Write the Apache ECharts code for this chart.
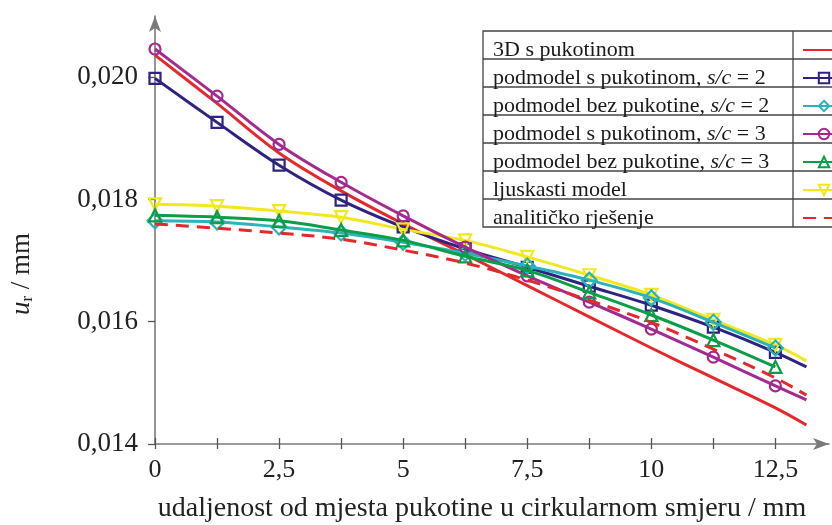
<!DOCTYPE html>
<html>
<head>
<meta charset="utf-8">
<script src="https://cdn.jsdelivr.net/npm/echarts@6/dist/echarts.min.js"></script>
<style>
html,body{margin:0;padding:0;background:#fff;}
#chart{width:832px;height:525px;}
</style>
</head>
<body>
<div id="chart"></div>
<script>
// ---- data (values in mm) ----
var xPositions = [0, 1.25, 2.5, 3.75, 5, 6.25, 7.5, 8.75, 10, 11.25, 12.5, 13.125];
var xTickValues = [0, 1.25, 2.5, 3.75, 5, 6.25, 7.5, 8.75, 10, 11.25, 12.5];
var xLabelValues = [0, 2.5, 5, 7.5, 10, 12.5];
var yLabelValues = [0.014, 0.016, 0.018, 0.020];

var names = [
  '3D s pukotinom',
  'podmodel s pukotinom, s/c = 2',
  'podmodel bez pukotine, s/c = 2',
  'podmodel s pukotinom, s/c = 3',
  'podmodel bez pukotine, s/c = 3',
  'ljuskasti model',
  'analitičko rješenje'
];

var full3D      = [0.02036, 0.01957, 0.01876, 0.01814, 0.01760, 0.01710, 0.01659, 0.01608, 0.01557, 0.01508, 0.01459, 0.01431];
var subCrack2   = [0.01998, 0.01926, 0.01856, 0.01799, 0.01755, 0.01719, 0.01689, 0.01658, 0.01627, 0.01591, 0.01550, 0.01526];
var subNoCrack2 = [0.01765, 0.01763, 0.01755, 0.01745, 0.01730, 0.01712, 0.01691, 0.01668, 0.01639, 0.01599, 0.01557];
var subCrack3   = [0.02046, 0.01969, 0.01890, 0.01828, 0.01773, 0.01722, 0.01675, 0.01632, 0.01588, 0.01542, 0.01495, 0.01472];
var subNoCrack3 = [0.01774, 0.01771, 0.01765, 0.01750, 0.01733, 0.01707, 0.01684, 0.01648, 0.01611, 0.01570, 0.01526];
var shellModel  = [0.01792, 0.01789, 0.01781, 0.01771, 0.01751, 0.01733, 0.01706, 0.01676, 0.01644, 0.01603, 0.01562, 0.01536];
var analytical  = [0.01760, 0.01753, 0.01745, 0.01735, 0.01717, 0.01696, 0.01668, 0.01635, 0.01599, 0.01555, 0.01508, 0.01480];

var colors = ['#e4282c', '#2e2383', '#2ab3b8', '#a32a8f', '#0c9d48', '#f2e81c', '#e4282c'];

var FONT = '"Liberation Serif", "Times New Roman", serif';

function pts(arr, hasMarker) {
  return arr.map(function (v, i) {
    var item = { value: [xPositions[i], v] };
    if (!hasMarker || i >= xTickValues.length) item.symbol = 'none';
    return item;
  });
}

function mkSeries(idx, arr, symbol, size, opts) {
  var c = colors[idx];
  var s = {
    name: names[idx],
    type: 'line',
    smooth: 0.35,
    data: pts(arr, !!symbol),
    symbol: symbol || 'circle',
    symbolSize: size || 0,
    showSymbol: !!symbol,
    lineStyle: { color: c, width: 3 },
    itemStyle: symbol ? { color: 'rgba(255,255,255,0)', borderColor: c, borderWidth: 2.2 }
                      : { color: 'rgba(255,255,255,0)', borderWidth: 0 },
    emphasis: { disabled: true },
    clip: false,
    z: 2 + idx
  };
  if (opts) for (var k in opts) s[k] = opts[k];
  return s;
}

var series = [
  mkSeries(0, full3D, null),
  mkSeries(1, subCrack2, 'rect', 11),
  mkSeries(2, subNoCrack2, 'diamond', 15),
  mkSeries(3, subCrack3, 'circle', 11),
  mkSeries(4, subNoCrack3, 'triangle', 12),
  mkSeries(5, shellModel, 'triangle', 12, { symbolRotate: 180 }),
  mkSeries(6, analytical, null)
];
series[6].lineStyle.type = [13, 8];
series[5].z = 3;

var chart = echarts.init(document.getElementById('chart'), null, { renderer: 'canvas' });

var rowH = 28, legTop = 31, legLeft = 483, legDiv = 793, legRight = 840;
var tableGraphics = [{
  type: 'rect',
  shape: { x: legLeft, y: legTop, width: legRight - legLeft, height: rowH * names.length },
  style: { fill: '#fff', stroke: '#444', lineWidth: 1.3 },
  z: 0
}, {
  type: 'line',
  shape: { x1: legDiv, y1: legTop, x2: legDiv, y2: legTop + rowH * names.length },
  style: { stroke: '#444', lineWidth: 1.3 },
  z: 0
}];
for (var r = 1; r < names.length; r++) {
  tableGraphics.push({
    type: 'line',
    shape: { x1: legLeft, y1: legTop + r * rowH, x2: legRight, y2: legTop + r * rowH },
    style: { stroke: '#444', lineWidth: 1.3 },
    z: 0
  });
}
tableGraphics.push({
  type: 'text',
  x: 22, y: 274,
  rotation: Math.PI / 2,
  style: {
    text: '{u|u}{r|r}{n| / mm}',
    align: 'center', verticalAlign: 'middle',
    rich: {
      u: { fontFamily: FONT, fontSize: 27, fontStyle: 'italic', fill: '#222' },
      r: { fontFamily: FONT, fontSize: 17, fill: '#222', padding: [12, 0, 0, 0] },
      n: { fontFamily: FONT, fontSize: 27, fill: '#222' }
    }
  },
  z: 10
});

var option = {
  backgroundColor: '#fff',
  animation: false,
  grid: { left: 155, right: 3, top: 16, bottom: 81, containLabel: false, outerBoundsMode: 'none' },
  legend: [{
    data: names,
    orient: 'vertical',
    left: legLeft, top: legTop,
    itemWidth: 0, itemHeight: 13, itemGap: 0,
    icon: 'none',
    selectedMode: false,
    formatter: function (n) { return n.replace('s/c', '{i|s/c}'); },
    textStyle: {
      fontFamily: FONT, fontSize: 22, color: '#1a1a1a', lineHeight: rowH,
      rich: { i: { fontFamily: FONT, fontSize: 22, fontStyle: 'italic', color: '#1a1a1a', lineHeight: rowH } }
    },
    z: 5
  }, {
    data: names,
    orient: 'vertical',
    left: legDiv + 4, top: legTop,
    itemWidth: 42, itemHeight: 13, itemGap: 0,
    selectedMode: false,
    formatter: function () { return ' '; },
    textStyle: { fontFamily: FONT, fontSize: 22, lineHeight: rowH },
    z: 5
  }],
  xAxis: [{
    type: 'value',
    min: 0, max: 13.58,
    name: 'udaljenost od mjesta pukotine u cirkularnom smjeru / mm',
    nameLocation: 'middle',
    nameGap: 51,
    nameTextStyle: { fontFamily: FONT, fontSize: 28, color: '#222', padding: [0, 20, 0, 0] },
    splitLine: { show: false },
    axisLine: { show: true, onZero: false, lineStyle: { color: '#7a7a7a', width: 1.6 }, symbol: ['none', 'arrow'], symbolSize: [9, 16] },
    axisTick: { show: true, customValues: xTickValues, length: 5, lineStyle: { color: '#555', width: 1.3 } },
    axisLabel: {
      customValues: xLabelValues,
      margin: 13,
      fontFamily: FONT, fontSize: 26, color: '#222',
      formatter: function (v) { return String(v).replace('.', ','); }
    }
  }, {
    type: 'value',
    min: 0, max: 13.58,
    position: 'bottom',
    splitLine: { show: false },
    axisLine: { show: false },
    axisTick: { show: true, inside: true, customValues: xTickValues, length: 6, lineStyle: { color: '#555', width: 1.3 } },
    axisLabel: { show: false }
  }],
  yAxis: {
    type: 'value',
    min: 0.014, max: 0.021,
    splitLine: { show: false },
    axisLine: { show: true, onZero: false, lineStyle: { color: '#7a7a7a', width: 1.6 }, symbol: ['none', 'arrow'], symbolSize: [9, 16] },
    axisTick: { show: true, customValues: yLabelValues, length: 7, lineStyle: { color: '#555', width: 1.3 } },
    axisLabel: {
      customValues: yLabelValues,
      margin: 17,
      fontFamily: FONT, fontSize: 27, color: '#222',
      formatter: function (v) { return v.toFixed(3).replace('.', ','); }
    }
  },
  graphic: tableGraphics,
  series: series
};

chart.setOption(option);
</script>
</body>
</html>
